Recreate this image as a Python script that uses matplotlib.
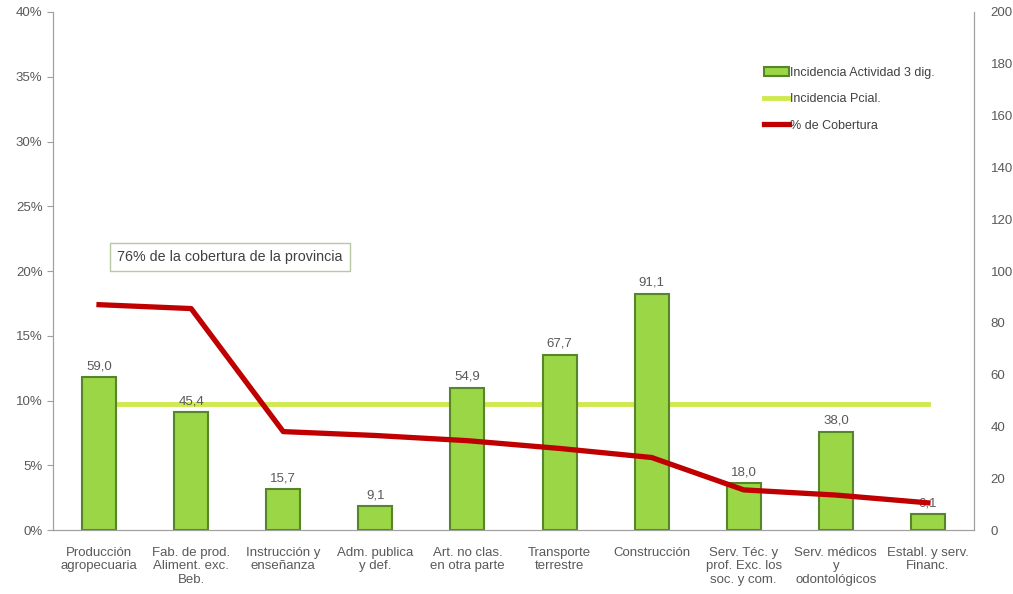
import matplotlib
matplotlib.use('agg')
import numpy as np
import matplotlib.pyplot as plt
from matplotlib.ticker import FuncFormatter

plt.rcParams['font.family'] = ['Liberation Sans', 'DejaVu Sans']

categorias = ['Producción\nagropecuaria', 'Fab. de prod.\nAliment. exc.\nBeb.',
              'Instrucción y\nenseñanza', 'Adm. publica\ny def.',
              'Art. no clas.\nen otra parte', 'Transporte\nterrestre',
              'Construcción', 'Serv. Téc. y\nprof. Exc. los\nsoc. y com.',
              'Serv. médicos\ny\nodontológicos', 'Establ. y serv.\nFinanc.']
incidencia_act = [59.0, 45.4, 15.7, 9.1, 54.9, 67.7, 91.1, 18.0, 38.0, 6.1]
incidencia_pcial = 48.8
cobertura = [17.4, 17.1, 7.6, 7.3, 6.9, 6.3, 5.6, 3.1, 2.7, 2.1]

gris = '#595959'
fig = plt.figure(figsize=(10.13, 5.94), dpi=100)
ax = fig.add_axes([0.0523, 0.1077, 0.9092, 0.8721])
ax2 = ax.twinx()
ax.set_zorder(ax2.get_zorder() + 1)
ax.patch.set_visible(False)

ind = np.arange(len(categorias))
# linea provincial detras de las barras
pc, = ax2.plot([ind[0], ind[-1]], [incidencia_pcial, incidencia_pcial],
               color='#CFEA4E', lw=3.5, zorder=1, label='Incidencia Pcial.')
bars = ax2.bar(ind, incidencia_act, 0.37, color='#9BD646', edgecolor='#55862A',
               linewidth=1.5, zorder=2, label='Incidencia Actividad 3 dig.')
for i, v in enumerate(incidencia_act):
    ax2.text(i, v + 2, ('%.1f' % v).replace('.', ','), ha='center', va='bottom',
             fontsize=9.5, color=gris, zorder=3)
cob, = ax.plot(ind, cobertura, color='#C00000', lw=3.8, label='% de Cobertura')

ax.set_xlim(-0.5, len(categorias) - 0.5)
ax.set_ylim(0, 40)
ax2.set_ylim(0, 200)
ax.set_yticks(np.arange(0, 41, 5))
ax.yaxis.set_major_formatter(FuncFormatter(lambda x, p: '%d%%' % x))
ax2.set_yticks(np.arange(0, 201, 20))
ax.set_xticks(ind)
ax.set_xticklabels(categorias, fontsize=9.5, color=gris, linespacing=1.2)
ax.tick_params(axis='x', length=0, pad=12)
ax.tick_params(axis='y', labelsize=9.5, labelcolor=gris, color='#a0a0a0', length=4)
ax2.tick_params(axis='y', labelsize=9.5, labelcolor=gris, length=0, pad=12)

for a in (ax, ax2):
    a.spines['top'].set_visible(False)
    for s in ('left', 'right', 'bottom'):
        a.spines[s].set_color('#a0a0a0')

ax.text(0.07, 0.527, '76% de la cobertura de la provincia', transform=ax.transAxes,
        fontsize=10.3, color='#404040', va='center',
        bbox=dict(boxstyle='square,pad=0.5', fc='white', ec='#b8c8a0', lw=1))

ax.legend([bars, pc, cob], ['Incidencia Actividad 3 dig.', 'Incidencia Pcial.', '% de Cobertura'],
          loc='upper left', bbox_to_anchor=(0.76, 0.916), frameon=False, fontsize=9,
          handlelength=2.0, handletextpad=0.1, labelspacing=1.15, labelcolor='#404040')

plt.savefig('out.png', dpi=100)
